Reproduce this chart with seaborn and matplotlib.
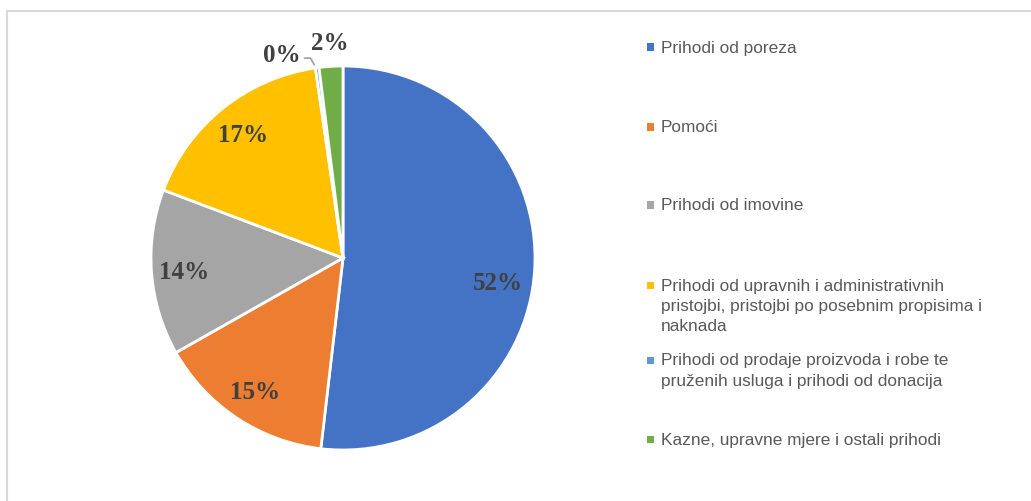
import matplotlib
matplotlib.use("Agg")
import matplotlib.pyplot as plt
import seaborn as sns
import numpy as np
from matplotlib.patches import Rectangle
from matplotlib.lines import Line2D

categories = [
    "Prihodi od poreza",
    "Pomoći",
    "Prihodi od imovine",
    "Prihodi od upravnih i administrativnih\npristojbi, pristojbi po posebnim propisima i\nnaknada",
    "Prihodi od prodaje proizvoda i robe te\npruženih usluga i prihodi od donacija",
    "Kazne, upravne mjere i ostali prihodi",
]
values = [52.0, 15.0, 14.0, 17.0, 0.3, 2.0]
pct_labels = ["52%", "15%", "14%", "17%", "0%", "2%"]
colors = ["#4472C4", "#ED7D31", "#A5A5A5", "#FFC000", "#5B9BD5", "#70AD47"]

sns.set_theme(style="white")
palette = sns.color_palette(colors)

W, H = 1031, 501
fig = plt.figure(figsize=(W / 100, H / 100), dpi=100)
fig.patch.set_facecolor("white")

# chart frame
fig.add_artist(Line2D([6.5 / W, 1.0], [1 - 10.5 / H, 1 - 10.5 / H], color="#d9d9d9", lw=1.5))
fig.add_artist(Line2D([6.5 / W, 6.5 / W], [0, 1 - 10.5 / H], color="#d9d9d9", lw=1.5))

cx, cy, R = 343, 258, 192
half = 200
ax = fig.add_axes([(cx - half) / W, (H - cy - half) / H, 2 * half / W, 2 * half / H])
wedges, _ = ax.pie(values, colors=palette, startangle=90, counterclock=False,
                   radius=1.0, wedgeprops=dict(edgecolor="white", linewidth=2))
lim = half / R
ax.set_xlim(-lim, lim)
ax.set_ylim(-lim, lim)
ax.set_aspect("equal")
ax.axis("off")

lab_font = dict(family="Liberation Serif", weight="bold", color="#404040", fontsize=18)
for i, w in enumerate(wedges):
    mid = np.deg2rad((w.theta1 + w.theta2) / 2)
    frac = values[i] / sum(values)
    if frac > 0.05:
        r = 0.81 if frac > 0.5 else 0.83
        dy = -0.085 if frac > 0.5 else -0.01
        ax.text(r * np.cos(mid), r * np.sin(mid) + dy, pct_labels[i], ha="center", va="center", **lab_font)
    elif frac < 0.01:
        tx, ty = -0.32, 1.055
        ax.text(tx, ty, pct_labels[i], ha="center", va="center", **lab_font)
        ex, ey = np.cos(mid), np.sin(mid)
        ax.plot([tx + 0.12, ex - 0.035, ex - 0.015], [ey + 0.05, ey + 0.05, ey + 0.015],
                color="#a6a6a6", lw=1.3, clip_on=False)
    else:
        r = 1.12
        ax.text(r * np.cos(mid), r * np.sin(mid), pct_labels[i], ha="center", va="center", **lab_font)

# legend entries
entry_y = [47, 127, 205, 285, 360, 439]
for lab, col, y in zip(categories, palette, entry_y):
    s = 7
    fig.add_artist(Rectangle(((650 - s / 2) / W, 1 - (y + s / 2) / H), s / W, s / H,
                             facecolor=col, edgecolor="none", transform=fig.transFigure))
    fig.text(661 / W, 1 - (y - 6.5) / H, lab, ha="left", va="top", fontsize=12.4,
             family="Liberation Sans", color="#595959", linespacing=1.45)

fig.savefig("out.png", dpi=100, facecolor="white")
